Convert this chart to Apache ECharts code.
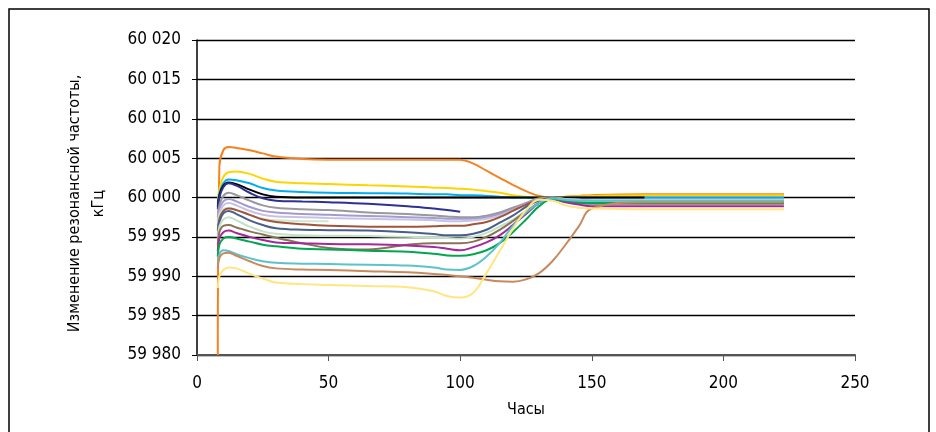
<!DOCTYPE html>
<html><head><meta charset="utf-8">
<script src="https://cdn.jsdelivr.net/npm/echarts@6/dist/echarts.min.js"></script>
<style>html,body{margin:0;padding:0;background:#fff}#c{width:936px;height:432px}</style>
</head><body><div id="c"></div>
<script>
const HOURS = [7.9, 8.5, 10, 12, 15, 20, 25, 30, 40, 50, 65, 80, 90, 95, 100, 105, 110, 115, 120, 125, 130, 135, 140, 145, 150, 170, 200, 223];
const Y_TICKS = [59980, 59985, 59990, 59995, 60000, 60005, 60010, 60015, 60020];
const X_TICKS = [0, 50, 100, 150, 200, 250];
const Y_NAME = 'Изменение резонансной частоты,\nкГц';
const X_NAME = 'Часы';

const S_ORANGE = [59980, 60004.0, 60006.0, 60006.4, 60006.3, 60006.0, 60005.6, 60005.2, 60004.9, 60004.8, 60004.8, 60004.8, 60004.8, 60004.8, 60004.8, 60004.3, 60003.4, 60002.5, 60001.6, 60000.8, 60000.2, 60000.0, 60000.1, 60000.2, 60000.3, 60000.4, 60000.4, 60000.4];
const S_YELLOW = [59999.3, 60001.0, 60002.6, 60003.2, 60003.3, 60003.0, 60002.4, 60002.0, 60001.8, 60001.7, 60001.55, 60001.4, 60001.25, 60001.2, 60001.1, 60001.0, 60000.8, 60000.6, 60000.3, 60000.1, 60000.0, 60000.0, 60000.1, 60000.15, 60000.2, 60000.3, 60000.3, 60000.3];
const S_LIGHTBLUE = [59999.0, 60000.5, 60001.8, 60002.3, 60002.2, 60001.8, 60001.2, 60000.9, 60000.7, 60000.6, 60000.55, 60000.5, 60000.4, 60000.4, 60000.3, 60000.3, 60000.2, 60000.1, 60000.0, 60000.0, 59999.9, 59999.9, 60000.0, 60000.0, 60000.0, 60000.0, 60000.0, 60000.0];
const S_BLACK = [59998.8, 60000.3, 60001.5, 60001.9, 60001.7, 60001.0, 60000.4, 60000.1, 60000.0, 60000.0, 60000.0, 60000.0, 60000.0, 60000.0, 60000.0, 60000.0, 60000.0, 60000.0, 60000.0, 60000.0, 60000.0, 60000.0, 60000.0, 60000.0, 60000.0, 60000.0, null, null];
const S_NAVY = [59998.5, 60000.0, 60001.3, 60001.8, 60001.5, 60000.6, 59999.9, 59999.6, 59999.5, 59999.4, 59999.2, 59998.9, 59998.6, 59998.4, 59998.2, null, null, null, null, null, null, null, null, null, null, null, null, null];
const S_GREY = [59997.5, 59999.0, 60000.2, 60000.6, 60000.3, 59999.6, 59999.0, 59998.7, 59998.5, 59998.4, 59998.1, 59997.9, 59997.7, 59997.6, 59997.5, 59997.5, 59997.7, 59998.1, 59998.7, 59999.3, 59999.9, 60000.0, 59999.8, 59999.7, 59999.6, 59999.6, 59999.6, 59999.6];
const S_LAVENDER = [59997.0, 59998.5, 59999.5, 59999.8, 59999.5, 59998.8, 59998.3, 59998.1, 59997.9, 59997.8, 59997.65, 59997.5, 59997.4, 59997.3, 59997.3, 59997.3, 59997.5, 59997.9, 59998.5, 59999.2, 59999.8, 60000.0, 59999.8, 59999.7, 59999.6, 59999.6, 59999.6, 59999.6];
const S_LILAC = [59996.5, 59998.0, 59999.0, 59999.3, 59999.0, 59998.3, 59997.8, 59997.6, 59997.5, 59997.4, 59997.3, 59997.2, 59997.1, 59997.0, 59997.0, 59997.1, 59997.3, 59997.7, 59998.4, 59999.1, 59999.7, 59999.9, 59999.8, 59999.7, 59999.6, 59999.6, 59999.6, 59999.6];
const S_MINT = [59996.3, 59997.7, 59998.5, 59998.7, 59998.4, 59997.8, 59997.3, 59997.1, 59997.0, 59997.0, null, null, null, null, null, null, null, null, null, null, null, null, null, null, null, null, null, null];
const S_SIENNA = [59995.8, 59997.3, 59998.3, 59998.6, 59998.4, 59997.8, 59997.2, 59996.9, 59996.6, 59996.4, 59996.3, 59996.3, 59996.35, 59996.4, 59996.4, 59996.6, 59996.9, 59997.5, 59998.3, 59999.1, 59999.7, 59999.9, 59999.6, 59999.4, 59999.3, 59999.3, 59999.3, 59999.3];
const S_SLATE = [59995.3, 59996.9, 59998.0, 59998.3, 59997.9, 59997.1, 59996.5, 59996.1, 59995.9, 59995.85, 59995.8, 59995.6, 59995.35, 59995.2, 59995.2, 59995.4, 59995.9, 59996.8, 59997.7, 59998.8, 59999.6, 59999.9, 59999.6, 59999.4, 59999.3, 59999.3, 59999.3, 59999.3];
const S_PALEGREEN = [59994.8, 59996.3, 59997.2, 59997.5, 59997.1, 59996.3, 59995.7, 59995.4, 59995.2, 59995.15, 59995.1, 59995.0, 59994.9, 59994.85, 59994.8, 59995.0, 59995.5, 59996.3, 59997.2, 59998.3, 59999.3, 59999.8, 59999.6, 59999.4, 59999.3, 59999.3, 59999.3, 59999.3];
const S_TAUPE = [59994.0, 59995.6, 59996.4, 59996.5, 59996.2, 59995.7, 59995.3, 59994.9, 59994.2, 59993.6, 59993.4, 59994.0, 59994.2, 59994.2, 59994.2, 59994.4, 59995.0, 59995.9, 59997.0, 59998.2, 59999.3, 59999.8, 59999.5, 59999.3, 59999.2, 59999.2, 59999.2, 59999.2];
const S_PURPLE = [59993.2, 59994.8, 59995.6, 59995.8, 59995.5, 59995.0, 59994.6, 59994.3, 59994.2, 59994.1, 59994.05, 59993.9, 59993.7, 59993.5, 59993.3, 59993.7, 59994.3, 59995.2, 59996.5, 59997.9, 59999.3, 59999.8, 59999.4, 59999.1, 59998.9, 59998.9, 59998.9, 59998.9];
const S_GREEN = [59992.5, 59994.0, 59994.8, 59995.0, 59994.8, 59994.4, 59994.0, 59993.8, 59993.5, 59993.4, 59993.25, 59993.1, 59992.85, 59992.65, 59992.6, 59992.8, 59993.3, 59994.2, 59995.6, 59997.2, 59998.9, 59999.8, 59999.6, 59999.4, 59999.3, 59999.3, 59999.3, 59999.3];
const S_TEAL = [59991.5, 59992.8, 59993.3, 59993.2, 59992.8, 59992.3, 59991.9, 59991.7, 59991.6, 59991.55, 59991.45, 59991.35, 59991.1, 59990.85, 59990.8, 59991.3, 59992.5, 59994.2, 59996.4, 59998.1, 59999.3, 59999.9, 59999.7, 59999.6, 59999.6, 59999.6, 59999.6, 59999.6];
const S_COPPER = [59991.0, 59992.3, 59992.9, 59993.0, 59992.6, 59991.9, 59991.3, 59991.0, 59990.85, 59990.8, 59990.65, 59990.5, 59990.3, 59990.15, 59990.0, 59989.8, 59989.55, 59989.35, 59989.3, 59989.6, 59990.4, 59991.9, 59994.0, 59996.3, 59998.6, 59999.4, 59999.4, 59999.4];
const S_PALEYELLOW = [59988.5, 59990.0, 59990.8, 59991.1, 59991.0, 59990.3, 59989.7, 59989.2, 59989.0, 59988.9, 59988.75, 59988.6, 59988.1, 59987.5, 59987.3, 59987.9, 59990.4, 59993.2, 59996.0, 59998.4, 59999.7, 59999.6, 59999.0, 59998.7, 59998.6, 59998.5, 59998.5, 59998.5];

const SERIES = [
  ['Оранжевая', S_ORANGE, '#F58220'],
  ['Жёлтая', S_YELLOW, '#FFD400'],
  ['Голубая', S_LIGHTBLUE, '#00AEEF'],
  ['Чёрная', S_BLACK, '#000000'],
  ['Синяя', S_NAVY, '#2E3192'],
  ['Серая', S_GREY, '#999999'],
  ['Лавандовая', S_LAVENDER, '#A29BCF'],
  ['Сиреневая', S_LILAC, '#C7C2E3'],
  ['Мятная', S_MINT, '#CFE6D1'],
  ['Коричневая', S_SIENNA, '#A0553A'],
  ['Сине-серая', S_SLATE, '#4A5E8C'],
  ['Светло-зелёная', S_PALEGREEN, '#C3E1C6'],
  ['Серо-коричневая', S_TAUPE, '#8A7256'],
  ['Фиолетовая', S_PURPLE, '#A2299B'],
  ['Зелёная', S_GREEN, '#00A651'],
  ['Бирюзовая', S_TEAL, '#5CC2CC'],
  ['Медная', S_COPPER, '#C8895E'],
  ['Бледно-жёлтая', S_PALEYELLOW, '#FFE680']
];

const FONT = "'DejaVu Sans Condensed', 'Liberation Sans', sans-serif";
const fmt = v => String(v).replace(/\B(?=(\d{3})+$)/, ' ');

const chart = echarts.init(document.getElementById('c'), null, {renderer: 'canvas'});
chart.setOption({
  animation: false,
  backgroundColor: '#fff',
  graphic: [{type: 'rect', shape: {x: 9, y: 9, width: 920, height: 440}, style: {fill: 'none', stroke: '#000', lineWidth: 1.5}, silent: true}],
  grid: {left: 197, right: 81, top: 40, bottom: 77, containLabel: false},
  xAxis: {
    type: 'value', min: X_TICKS[0], max: X_TICKS[X_TICKS.length - 1], interval: 50,
    name: X_NAME, nameLocation: 'middle', nameGap: 47,
    nameTextStyle: {fontFamily: FONT, fontSize: 16, color: '#000'},
    axisLine: {lineStyle: {color: '#555', width: 2}},
    axisTick: {show: true, length: 6, lineStyle: {color: '#555', width: 1}},
    axisLabel: {fontFamily: FONT, fontSize: 17, color: '#000', margin: 20},
    splitLine: {show: false}
  },
  yAxis: {
    type: 'value', min: Y_TICKS[0], max: Y_TICKS[Y_TICKS.length - 1], interval: 5,
    name: Y_NAME, nameLocation: 'middle', nameGap: 86, nameRotate: 90,
    nameTextStyle: {fontFamily: FONT, fontSize: 16, color: '#000', lineHeight: 24, align: 'center', padding: [0, 12, 0, 0]},
    axisLine: {show: true, lineStyle: {color: '#000', width: 1.5}},
    axisTick: {show: true, length: 5, lineStyle: {color: '#000'}},
    axisLabel: {fontFamily: FONT, fontSize: 17, color: '#000', margin: 16, formatter: fmt},
    splitLine: {show: true, lineStyle: {color: '#000', width: 1.3}}
  },
  series: SERIES.map(([name, vals, color]) => ({
    name, type: 'line', smooth: 0.4, symbol: 'none', connectNulls: false,
    lineStyle: {color, width: 2}, itemStyle: {color},
    data: HOURS.map((h, i) => [h, vals[i]])
  }))
});
</script></body></html>
